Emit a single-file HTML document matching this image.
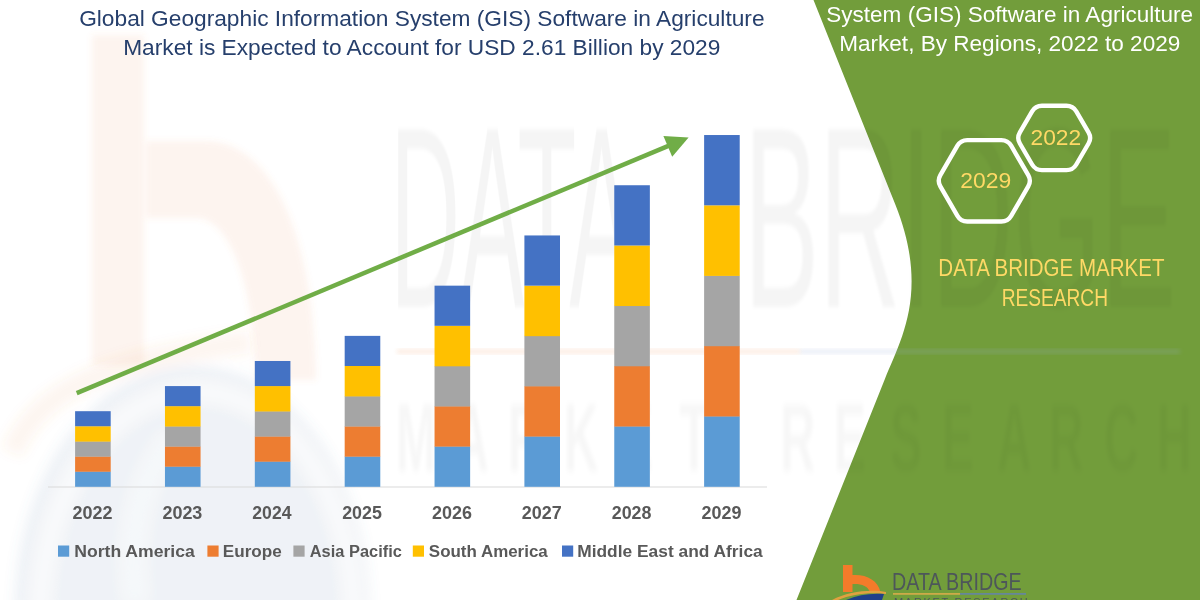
<!DOCTYPE html>
<html>
<head>
<meta charset="utf-8">
<title>GIS Software in Agriculture Market</title>
<style>
html,body{margin:0;padding:0;}
body{width:1200px;height:600px;overflow:hidden;position:relative;background:#ffffff;}
svg{position:absolute;left:0;top:0;display:block;}
text{font-family:"Liberation Sans",sans-serif;}
</style>
</head>
<body>
<svg width="1200" height="600" viewBox="0 0 1200 600">
  <!-- green panel -->
  <path d="M813.5 0 L1200 0 L1200 600 L796.5 600 L884.89 379.03 C900.65 339.63 930.13 291.58 895.32 204.54 Z" fill="#729d3b"/>
  <defs>
    <filter id="bl2" x="-10%" y="-10%" width="120%" height="120%"><feGaussianBlur stdDeviation="2"/></filter>
    <filter id="bl3" x="-10%" y="-10%" width="120%" height="120%"><feGaussianBlur stdDeviation="3"/></filter>
    <filter id="bl6" x="-20%" y="-20%" width="140%" height="140%"><feGaussianBlur stdDeviation="6"/></filter>
  </defs>
  <!-- faint logo watermark (left) -->
  <g filter="url(#bl3)">
    <g opacity="0.095" fill="#eb8a50">
      <rect x="92" y="35" width="52" height="330"/>
      <path d="M146 141 L205 141 C270 141 314 230 316 380 L256 380 C254 290 232 218 196 218 L146 218 Z"/>
    </g>
  </g>
  <g filter="url(#bl6)">
    <path d="M12 452 C35 400 85 362 250 342" fill="none" stroke="#eb8a50" stroke-opacity="0.08" stroke-width="22"/>
    <ellipse cx="192" cy="612" rx="178" ry="247" fill="#5a7db5" fill-opacity="0.10"/>
    <ellipse cx="197" cy="618" rx="157" ry="226" fill="none" stroke="#ffffff" stroke-opacity="0.65" stroke-width="13"/>
    <path d="M136 600 C128 540 138 480 172 440" fill="none" stroke="#ffffff" stroke-opacity="0.45" stroke-width="18"/>
  </g>
  <text transform="translate(390.27,307) scale(0.3746,1)" font-size="258.0" fill="#000000" fill-opacity="0.038" filter="url(#bl2)">DATA</text>
  <text transform="translate(743.98,307) scale(0.4369,1)" font-size="258.0" fill="#000000" fill-opacity="0.038" filter="url(#bl2)">BRIDGE</text>
  <rect x="397" y="349" width="403" height="5" fill="#ed7d31" opacity="0.13" filter="url(#bl2)"/>
  <rect x="800" y="349" width="380" height="5" fill="#9db0d8" opacity="0.2" filter="url(#bl2)"/>
  <text transform="translate(0,471) scale(0.5,1)" x="792.2 908.1 1016.2 1128.2 1242.2 1359.0 1460.0 1561.2 1668.2 1780.1 1884.2 1994.1 2098.2 2208.2 2314.2" font-size="96" font-weight="bold" fill="#000000" fill-opacity="0.03" filter="url(#bl3)">MARKET RESEARCH</text>
  <!-- axis -->
  <rect x="48" y="486.5" width="719" height="1" fill="#d9d9d9"/>
  <!-- bars -->
  <rect x="75.10" y="471.44" width="35.6" height="15.36" fill="#5b9bd5"/>
  <rect x="75.10" y="456.37" width="35.6" height="15.36" fill="#ed7d31"/>
  <rect x="75.10" y="441.31" width="35.6" height="15.36" fill="#a5a5a5"/>
  <rect x="75.10" y="426.25" width="35.6" height="15.36" fill="#ffc000"/>
  <rect x="75.10" y="411.19" width="35.6" height="15.06" fill="#4472c4"/>
  <rect x="164.96" y="466.42" width="35.6" height="20.38" fill="#5b9bd5"/>
  <rect x="164.96" y="446.33" width="35.6" height="20.38" fill="#ed7d31"/>
  <rect x="164.96" y="426.25" width="35.6" height="20.38" fill="#a5a5a5"/>
  <rect x="164.96" y="406.16" width="35.6" height="20.38" fill="#ffc000"/>
  <rect x="164.96" y="386.08" width="35.6" height="20.08" fill="#4472c4"/>
  <rect x="254.82" y="461.39" width="35.6" height="25.41" fill="#5b9bd5"/>
  <rect x="254.82" y="436.29" width="35.6" height="25.41" fill="#ed7d31"/>
  <rect x="254.82" y="411.19" width="35.6" height="25.41" fill="#a5a5a5"/>
  <rect x="254.82" y="386.08" width="35.6" height="25.41" fill="#ffc000"/>
  <rect x="254.82" y="360.98" width="35.6" height="25.11" fill="#4472c4"/>
  <rect x="344.68" y="456.37" width="35.6" height="30.43" fill="#5b9bd5"/>
  <rect x="344.68" y="426.25" width="35.6" height="30.43" fill="#ed7d31"/>
  <rect x="344.68" y="396.12" width="35.6" height="30.43" fill="#a5a5a5"/>
  <rect x="344.68" y="366.00" width="35.6" height="30.43" fill="#ffc000"/>
  <rect x="344.68" y="335.87" width="35.6" height="30.13" fill="#4472c4"/>
  <rect x="434.54" y="446.33" width="35.6" height="40.47" fill="#5b9bd5"/>
  <rect x="434.54" y="406.16" width="35.6" height="40.47" fill="#ed7d31"/>
  <rect x="434.54" y="366.00" width="35.6" height="40.47" fill="#a5a5a5"/>
  <rect x="434.54" y="325.83" width="35.6" height="40.47" fill="#ffc000"/>
  <rect x="434.54" y="285.66" width="35.6" height="40.17" fill="#4472c4"/>
  <rect x="524.40" y="436.29" width="35.6" height="50.51" fill="#5b9bd5"/>
  <rect x="524.40" y="386.08" width="35.6" height="50.51" fill="#ed7d31"/>
  <rect x="524.40" y="335.87" width="35.6" height="50.51" fill="#a5a5a5"/>
  <rect x="524.40" y="285.66" width="35.6" height="50.51" fill="#ffc000"/>
  <rect x="524.40" y="235.45" width="35.6" height="50.21" fill="#4472c4"/>
  <rect x="614.26" y="426.25" width="35.6" height="60.55" fill="#5b9bd5"/>
  <rect x="614.26" y="366.00" width="35.6" height="60.55" fill="#ed7d31"/>
  <rect x="614.26" y="305.74" width="35.6" height="60.55" fill="#a5a5a5"/>
  <rect x="614.26" y="245.49" width="35.6" height="60.55" fill="#ffc000"/>
  <rect x="614.26" y="185.24" width="35.6" height="60.25" fill="#4472c4"/>
  <rect x="704.12" y="416.21" width="35.6" height="70.59" fill="#5b9bd5"/>
  <rect x="704.12" y="345.91" width="35.6" height="70.59" fill="#ed7d31"/>
  <rect x="704.12" y="275.62" width="35.6" height="70.59" fill="#a5a5a5"/>
  <rect x="704.12" y="205.32" width="35.6" height="70.59" fill="#ffc000"/>
  <rect x="704.12" y="135.03" width="35.6" height="70.29" fill="#4472c4"/>
  <!-- arrow -->
  <line x1="76.7" y1="393.2" x2="672" y2="144.3" stroke="#70ad47" stroke-width="4.5"/>
  <polygon points="688.6,137.4 663.4,135.9 672.2,156.7" fill="#70ad47"/>
  <!-- hexagons -->
  <path d="M940.36 186.42 Q937.10 180.80 940.36 175.18 L957.44 145.72 Q960.70 140.10 967.20 140.10 L1001.40 140.10 Q1007.90 140.10 1011.16 145.72 L1028.24 175.18 Q1031.50 180.80 1028.24 186.42 L1011.16 215.88 Q1007.90 221.50 1001.40 221.50 L967.20 221.50 Q960.70 221.50 957.44 215.88 Z" fill="none" stroke="#ffffff" stroke-width="4.4"/>
  <path d="M1019.88 143.51 Q1016.60 137.90 1019.88 132.29 L1032.12 111.31 Q1035.40 105.70 1041.90 105.70 L1066.50 105.70 Q1073.00 105.70 1076.28 111.31 L1088.52 132.29 Q1091.80 137.90 1088.52 143.51 L1076.28 164.49 Q1073.00 170.10 1066.50 170.10 L1041.90 170.10 Q1035.40 170.10 1032.12 164.49 Z" fill="none" stroke="#ffffff" stroke-width="4.4"/>
  <!-- legend -->
  <rect x="58" y="545.5" width="11.2" height="11.2" fill="#5b9bd5"/>
  <rect x="207.4" y="545.5" width="11.2" height="11.2" fill="#ed7d31"/>
  <rect x="293.4" y="545.5" width="11.2" height="11.2" fill="#a5a5a5"/>
  <rect x="412.8" y="545.5" width="11.2" height="11.2" fill="#ffc000"/>
  <rect x="562" y="545.5" width="11.2" height="11.2" fill="#4472c4"/>
  <!-- logo -->
  <path d="M843 565 L852.5 565 L852.5 575 C866 574 878 580 880.5 592 L870 592 C868 586 861 583.5 852.5 584 L852.5 592 L843 592 Z" fill="#f47b2a"/>
  <path d="M832 600 C848 591 872 589 886 592 L886 594 C870 592 852 594 838 600 Z" fill="#e0a040"/>
  <path d="M846 600 C858 595 870 593 884 594 L882 600 Z" fill="#1f3f8a"/>
  <rect x="893" y="593" width="67" height="1.8" fill="#cdaa48"/>
  <rect x="960" y="593" width="66" height="1.8" fill="#66879a"/>
  <text x="894" y="605.5" font-size="11" letter-spacing="1.7" fill="#4d565a">MARKET RESEARCH</text>
  <!-- text -->
  <text transform="translate(79.16,26.00) scale(1.0233,1)" font-size="22.2" font-weight="normal" fill="#263f6c">Global Geographic Information System (GIS) Software in Agriculture</text>
  <text transform="translate(123.18,55.10) scale(1.0235,1)" font-size="22.2" font-weight="normal" fill="#263f6c">Market is Expected to Account for USD 2.61 Billion by 2029</text>
  <text transform="translate(826.30,21.80) scale(1.0146,1)" font-size="22.2" font-weight="normal" fill="#ffffff">System (GIS) Software in Agriculture</text>
  <text transform="translate(839.19,51.30) scale(1.0166,1)" font-size="22.2" font-weight="normal" fill="#ffffff">Market, By Regions, 2022 to 2029</text>
  <text transform="translate(960.15,188.40) scale(1.0056,1)" font-size="22.8" font-weight="normal" fill="#ffd966">2029</text>
  <text transform="translate(1030.46,145.40) scale(0.9994,1)" font-size="22.8" font-weight="normal" fill="#ffd966">2022</text>
  <text transform="translate(938.36,275.80) scale(0.8740,1)" font-size="23.5" font-weight="normal" fill="#ffd966">DATA BRIDGE MARKET</text>
  <text transform="translate(1001.77,306.20) scale(0.8141,1)" font-size="23.5" font-weight="normal" fill="#ffd966">RESEARCH</text>
  <text transform="translate(74.24,556.70) scale(1.0479,1)" font-size="16.8" font-weight="bold" fill="#595959">North America</text>
  <text transform="translate(222.77,556.70) scale(1.0190,1)" font-size="16.8" font-weight="bold" fill="#595959">Europe</text>
  <text transform="translate(309.77,556.70) scale(0.9771,1)" font-size="16.8" font-weight="bold" fill="#595959">Asia Pacific</text>
  <text transform="translate(428.86,556.70) scale(1.0092,1)" font-size="16.8" font-weight="bold" fill="#595959">South America</text>
  <text transform="translate(577.21,556.70) scale(1.0340,1)" font-size="16.8" font-weight="bold" fill="#595959">Middle East and Africa</text>
  <text transform="translate(892.12,590.00) scale(0.8564,1)" font-size="23.0" font-weight="normal" fill="#4d565a">DATA BRIDGE</text>
  <text transform="translate(72.56,518.50) scale(1.0214,1)" font-size="17.6" font-weight="bold" fill="#595959">2022</text>
  <text transform="translate(162.42,518.50) scale(1.0214,1)" font-size="17.6" font-weight="bold" fill="#595959">2023</text>
  <text transform="translate(252.29,518.50) scale(1.0028,1)" font-size="17.6" font-weight="bold" fill="#595959">2024</text>
  <text transform="translate(342.14,518.50) scale(1.0166,1)" font-size="17.6" font-weight="bold" fill="#595959">2025</text>
  <text transform="translate(432.00,518.50) scale(1.0214,1)" font-size="17.6" font-weight="bold" fill="#595959">2026</text>
  <text transform="translate(521.86,518.50) scale(1.0214,1)" font-size="17.6" font-weight="bold" fill="#595959">2027</text>
  <text transform="translate(611.72,518.50) scale(1.0166,1)" font-size="17.6" font-weight="bold" fill="#595959">2028</text>
  <text transform="translate(701.58,518.50) scale(1.0214,1)" font-size="17.6" font-weight="bold" fill="#595959">2029</text>
</svg>
</body>
</html>
